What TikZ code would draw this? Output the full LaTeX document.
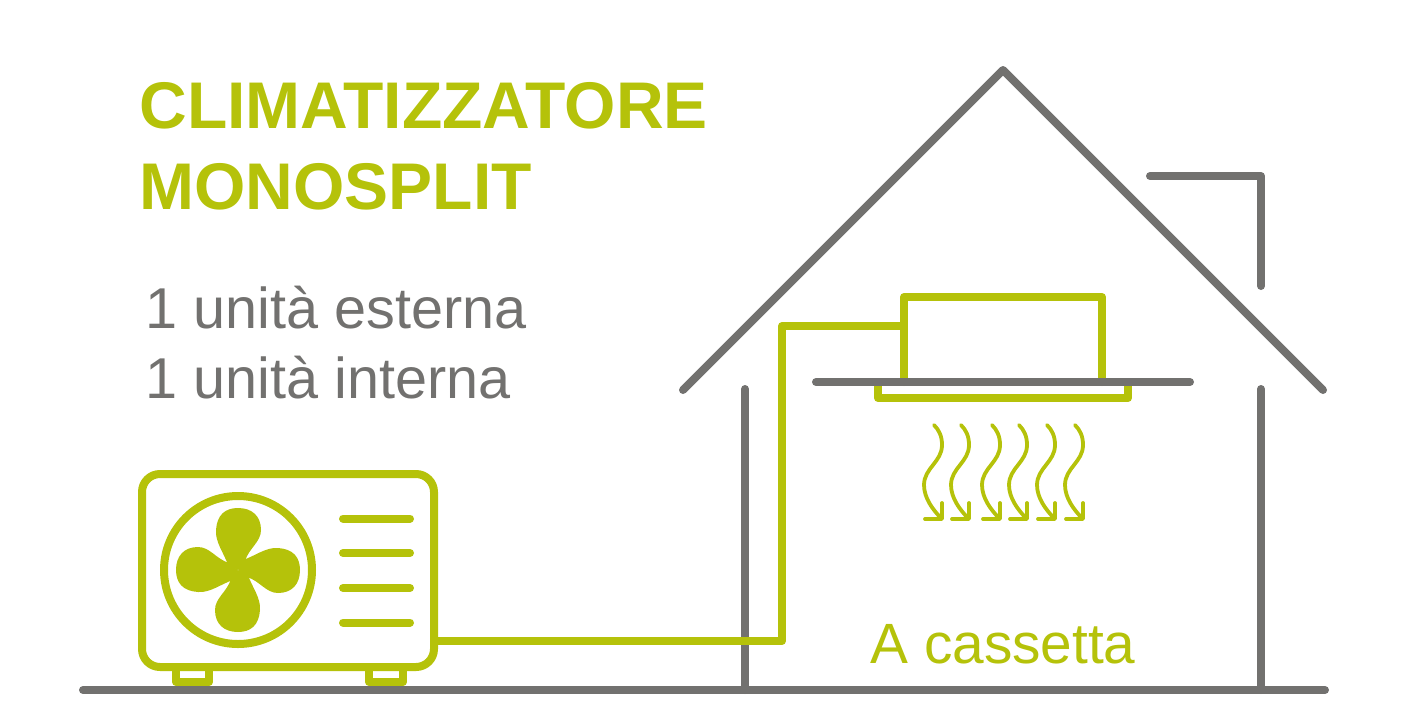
\documentclass[tikz,border=0pt]{standalone}
\usepackage{fontspec}
\setmainfont{Liberation Sans}
\usepackage{tikz}
\usetikzlibrary{positioning}
\definecolor{lime}{HTML}{B5C20A}
\definecolor{wall}{HTML}{72716F}

\begin{document}
\begin{tikzpicture}[x=0.5pt, y=-0.5pt, line cap=round, line join=round,
        greenline/.style={draw=lime, line width=4pt},
        greyline/.style={draw=wall, line width=4pt},
        airflow/.style={draw=lime, line width=1.9pt},
        label/.style={inner sep=0pt, anchor=base west}]
    \useasboundingbox (0,0) rectangle (1408,724);

    \node[label, text=lime, font=\bfseries\fontsize{33}{36}\selectfont] (title1) at (139,128) {CLIMATIZZATORE};
    \node[label, text=lime, font=\bfseries\fontsize{33}{36}\selectfont] (title2) at (139,209) {MONOSPLIT};
    \node[label, text=wall, font=\fontsize{28.8}{32}\selectfont] (sub1) at (145,328) {1 unità esterna};
    \node[label, text=wall, font=\fontsize{28.8}{32}\selectfont] (sub2) at (145,398) {1 unità interna};
    \node[label, text=lime, font=\fontsize{28.4}{32}\selectfont] (type) at (870,663) {A cassetta};

    % house
    \draw[greyline] (683,390) -- (1003,70) -- (1323,390);
    \draw[greyline] (1150,176) -- (1261,176) -- (1261,286);
    \draw[greyline] (745,389) -- (745,690);
    \draw[greyline] (1261,389) -- (1261,690);

    % outdoor unit
    \draw[greenline] (176,667) -- (176,682) -- (209,682) -- (209,667);
    \draw[greenline] (369,667) -- (369,682) -- (403,682) -- (403,667);
    \draw[greenline, rounded corners=9pt] (142,474) rectangle (434,667);
    \draw[greenline] (238,570) circle (74);
    \foreach \a in {0,90,180,270}
        \fill[lime, rotate around={\a:(238,570)}] (228,565)
            .. controls (224,553) and (215,542) .. (216,530)
            .. controls (217,515) and (225,508) .. (238,508)
            .. controls (252,508) and (261,516) .. (261,530)
            .. controls (261,542) and (249,548) .. (245,561)
            -- (238,570) -- cycle;
    \foreach \y in {518.5,553,588,622.5}
        \draw[greenline] (343,\y) -- (410,\y);

    % pipe
    \draw[greenline] (438,641) -- (782,641) -- (782,326) -- (902,326);

    % indoor unit
    \draw[greenline] (904,382) -- (904,297) -- (1102,297) -- (1102,382);
    \draw[greenline] (878,382) -- (878,398) -- (1128,398) -- (1128,382);
    \draw[greyline] (816,382) -- (1190,382);

    % air
    \foreach \x in {0,27,58,85,113,141} {
        \draw[airflow, xshift=\x*0.5pt] (934,425)
            .. controls (939,430) and (942,436) .. (942,445)
            .. controls (942,462) and (924,468) .. (924,485)
            .. controls (924,498) and (933,510) .. (941,518);
        \draw[airflow, xshift=\x*0.5pt] (925,519) -- (942,519) -- (942,503);
    }

    % ground
    \draw[greyline] (83,690) -- (1325,690);
\end{tikzpicture}
\end{document}
